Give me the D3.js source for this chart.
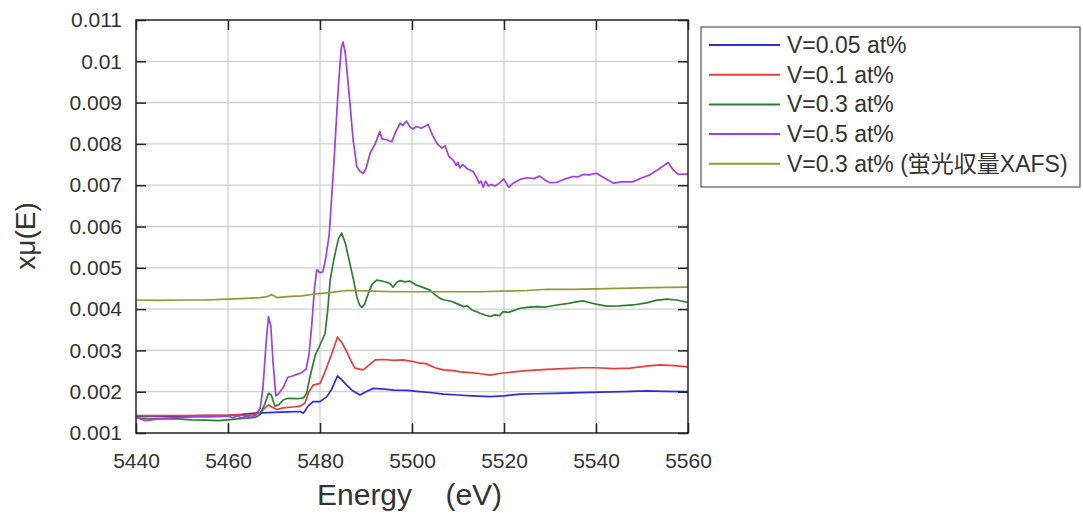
<!DOCTYPE html>
<html lang="ja">
<head>
    <meta charset="UTF-8">
    <title>XANES V K-edge</title>
    <script src="https://d3js.org/d3.v7.min.js"></script>
    <style>
        body { margin: 0; background: #fff; }
        text { font-family: "Liberation Sans", Arial, "Noto Sans CJK JP", sans-serif; fill: #333; }
    </style>
</head>
<body>
    <div id="chart"></div>
    <script>
        // tick values
        const xTicks = [5440, 5460, 5480, 5500, 5520, 5540, 5560];
        const yTicks = [0.001, 0.002, 0.003, 0.004, 0.005, 0.006, 0.007, 0.008, 0.009, 0.01, 0.011];

        // legend labels
        const seriesNames = ["V=0.05 at%", "V=0.1 at%", "V=0.3 at%", "V=0.5 at%", "V=0.3 at% (蛍光収量XAFS)"];

        // V=0.05 at%
        const e005 = [5440, 5445, 5450, 5455, 5460, 5463, 5466, 5470, 5473, 5475.7, 5476.4, 5477.4, 5478.5, 5480, 5481.5, 5482.5, 5483.8, 5484.8, 5485.8, 5487, 5488.7, 5490, 5491.6, 5494, 5496, 5499, 5501.7, 5504, 5506.8, 5510, 5513, 5517, 5520, 5523.5, 5527, 5531, 5536.5, 5541, 5546, 5551, 5555, 5560];
        const mu005 = [0.00141, 0.0014, 0.00141, 0.00142, 0.00143, 0.00145, 0.00148, 0.0015, 0.00151, 0.00152, 0.00148, 0.00165, 0.00176, 0.00176, 0.00188, 0.00205, 0.00238, 0.00228, 0.00216, 0.00203, 0.00192, 0.002, 0.00208, 0.00206, 0.00204, 0.00203, 0.002, 0.00198, 0.00194, 0.00192, 0.0019, 0.00188, 0.0019, 0.00194, 0.00195, 0.00196, 0.00198, 0.00199, 0.002, 0.00202, 0.00201, 0.002];

        // V=0.1 at%
        const e01 = [5440, 5445, 5450, 5455, 5460, 5462, 5464, 5466, 5467, 5468, 5468.8, 5469.5, 5470.6, 5472, 5474, 5475.7, 5476.7, 5477.6, 5478.5, 5480, 5480.8, 5481.5, 5482.5, 5483.8, 5484.8, 5485.8, 5486.7, 5487.6, 5489.4, 5490.7, 5492, 5494, 5496, 5498, 5500.3, 5501.7, 5503, 5505, 5506.8, 5509, 5510.5, 5512.6, 5514.5, 5517, 5519, 5522, 5525, 5529.3, 5533, 5537, 5540.1, 5544, 5547.4, 5551, 5553.9, 5557, 5560];
        const mu01 = [0.00142, 0.00142, 0.00142, 0.00143, 0.00143, 0.00144, 0.00142, 0.00145, 0.0015, 0.0016, 0.00168, 0.00163, 0.00157, 0.00161, 0.00163, 0.00165, 0.00172, 0.002, 0.00216, 0.0022, 0.0024, 0.0026, 0.0029, 0.00332, 0.00318, 0.00297, 0.00275, 0.00257, 0.00253, 0.00265, 0.00277, 0.00278, 0.00276, 0.00277, 0.00273, 0.00269, 0.00268, 0.00258, 0.00253, 0.00251, 0.00248, 0.00246, 0.00244, 0.0024, 0.00244, 0.00248, 0.00251, 0.00254, 0.00256, 0.00258, 0.00258, 0.00256, 0.00257, 0.00262, 0.00265, 0.00263, 0.0026];

        // V=0.3 at%
        const e03 = [5440, 5441, 5443, 5446, 5449, 5452, 5455, 5458, 5460, 5462, 5464, 5466, 5467, 5468, 5468.8, 5469.4, 5470.2, 5471, 5472, 5473, 5475, 5476.4, 5477.1, 5477.7, 5478.2, 5479, 5480, 5481.1, 5481.7, 5482.2, 5483, 5484, 5484.7, 5485.5, 5486.5, 5487.3, 5488, 5488.6, 5489.1, 5489.7, 5490.5, 5491.3, 5492.3, 5493.5, 5494.5, 5495.2, 5495.9, 5496.6, 5497.4, 5498.5, 5499.5, 5501, 5502.5, 5503.9, 5505, 5506.1, 5507, 5508.5, 5510, 5511.2, 5512, 5513, 5514, 5514.8, 5516, 5517, 5518, 5519, 5519.8, 5521, 5523.5, 5525, 5527.1, 5529, 5531.5, 5534, 5536, 5537.2, 5538.5, 5540, 5542.3, 5545, 5548.1, 5551, 5553, 5555.4, 5557.5, 5560];
        const mu03 = [0.00139, 0.00136, 0.00134, 0.00135, 0.00134, 0.00132, 0.00131, 0.0013, 0.00132, 0.00134, 0.00136, 0.00138, 0.00145, 0.0017, 0.00196, 0.00192, 0.00165, 0.00168, 0.0018, 0.00184, 0.00183, 0.00185, 0.00196, 0.0023, 0.00253, 0.0029, 0.00313, 0.00341, 0.004, 0.0047, 0.0052, 0.0057, 0.00584, 0.0056, 0.0051, 0.0047, 0.0043, 0.0041, 0.00404, 0.00412, 0.00438, 0.0046, 0.0047, 0.00468, 0.00465, 0.00462, 0.00453, 0.00464, 0.00469, 0.00466, 0.00468, 0.00458, 0.00452, 0.00446, 0.00435, 0.00426, 0.00422, 0.00419, 0.00412, 0.00406, 0.00408, 0.00398, 0.00394, 0.0039, 0.00385, 0.00382, 0.00386, 0.00384, 0.00394, 0.00392, 0.00402, 0.00404, 0.00406, 0.00405, 0.0041, 0.00414, 0.00418, 0.0042, 0.00416, 0.00412, 0.00407, 0.00408, 0.0041, 0.00415, 0.00421, 0.00424, 0.00422, 0.00416];

        // V=0.5 at%
        const e05 = [5440, 5441, 5442, 5443, 5445, 5447, 5450, 5453, 5456, 5459, 5460, 5461, 5462, 5463, 5464, 5465, 5466, 5467, 5467.6, 5468.3, 5468.8, 5469.3, 5469.8, 5470.4, 5471, 5472, 5473, 5474, 5475, 5476, 5477, 5477.6, 5478.2, 5478.8, 5479.3, 5480, 5480.6, 5481.2, 5482, 5483, 5484, 5484.6, 5485, 5485.5, 5486, 5486.5, 5487.2, 5488, 5488.7, 5489.4, 5490, 5490.9, 5492, 5493, 5493.5, 5494.5, 5495.6, 5496.5, 5497.4, 5498, 5498.8, 5499.5, 5500.2, 5501, 5502, 5503.5, 5504.5, 5505.5, 5506.5, 5507.2, 5508, 5509, 5509.6, 5510, 5510.4, 5511, 5512, 5513.3, 5514, 5514.6, 5515, 5515.5, 5516, 5516.6, 5517.2, 5518, 5519, 5519.9, 5520.5, 5521, 5522, 5523.5, 5525, 5526.5, 5527.8, 5529, 5530, 5531.5, 5533, 5535, 5536, 5537.2, 5538.5, 5540.1, 5542, 5543.8, 5545.5, 5548, 5550, 5551.7, 5553.5, 5555.7, 5556.7, 5557.9, 5560];
        const mu05 = [0.00138, 0.00134, 0.0013, 0.00131, 0.00134, 0.00136, 0.00138, 0.00139, 0.00139, 0.0014, 0.00141, 0.00137, 0.00142, 0.00136, 0.00141, 0.00138, 0.00143, 0.0016, 0.0021, 0.0032, 0.00382, 0.0036, 0.0027, 0.0019, 0.00195, 0.0021, 0.00235, 0.00238, 0.00242, 0.00246, 0.00255, 0.0029, 0.0036, 0.0045, 0.00495, 0.00488, 0.0049, 0.0052, 0.0058, 0.0075, 0.0094, 0.0103, 0.01047, 0.0102, 0.0096, 0.009, 0.0081, 0.00745, 0.00733, 0.00729, 0.0074, 0.00778, 0.008, 0.0083, 0.00812, 0.0081, 0.00805, 0.0083, 0.0085, 0.00845, 0.00855, 0.00842, 0.00836, 0.00842, 0.00838, 0.00847, 0.0082, 0.008, 0.0079, 0.00795, 0.0077, 0.0076, 0.00748, 0.00755, 0.00742, 0.0075, 0.0074, 0.00733, 0.0072, 0.00705, 0.0071, 0.00695, 0.0071, 0.00698, 0.00702, 0.00698, 0.00705, 0.00715, 0.00705, 0.00695, 0.00705, 0.00714, 0.00718, 0.00716, 0.00722, 0.00712, 0.00706, 0.00707, 0.00714, 0.00721, 0.0072, 0.00726, 0.00725, 0.00729, 0.00716, 0.00705, 0.00708, 0.00708, 0.00718, 0.00725, 0.00738, 0.00755, 0.00738, 0.00726, 0.00727];

        // V=0.3 at% fluorescence yield
        const eFl = [5440, 5445, 5450, 5455, 5460, 5464, 5467, 5468.5, 5469.5, 5470.6, 5473, 5476, 5478.5, 5482, 5485.8, 5490, 5496, 5505, 5515, 5525, 5529.3, 5535, 5545, 5552, 5560];
        const muFl = [0.00422, 0.00421, 0.00422, 0.00422, 0.00424, 0.00426, 0.00428, 0.0043, 0.00435, 0.00428, 0.0043, 0.00432, 0.00436, 0.0044, 0.00445, 0.00444, 0.00442, 0.00442, 0.00442, 0.00445, 0.00448, 0.00448, 0.0045, 0.00452, 0.00453];

        const colors = ["#2d2dd8", "#e63d3d", "#2f7d33", "#a040de", "#8f9a36"];
        const series = [[e005, mu005], [e01, mu01], [e03, mu03], [e05, mu05], [eFl, muFl]]
            .map(([e, m], i) => ({ name: seriesNames[i], color: colors[i], pts: e.map((x, j) => [x, m[j]]) }));

        const W = 1083, H = 513;
        const margin = { top: 20, right: 395, bottom: 80, left: 136 };
        const width = W - margin.left - margin.right;
        const height = H - margin.top - margin.bottom;

        const x = d3.scaleLinear().domain([5440, 5560]).range([0, width]);
        const y = d3.scaleLinear().domain([0.001, 0.011]).range([height, 0]);

        const svg = d3.select("#chart").append("svg")
            .attr("width", W).attr("height", H);
        const g = svg.append("g").attr("transform", `translate(${margin.left},${margin.top})`);

        // grid
        g.append("g").selectAll("line").data(xTicks.slice(1, -1)).join("line")
            .attr("x1", d => x(d)).attr("x2", d => x(d))
            .attr("y1", 0).attr("y2", height)
            .attr("stroke", "#cfcfcf").attr("stroke-width", 1.3);
        g.append("g").selectAll("line").data(yTicks.slice(1, -1)).join("line")
            .attr("y1", d => y(d)).attr("y2", d => y(d))
            .attr("x1", 0).attr("x2", width)
            .attr("stroke", "#cfcfcf").attr("stroke-width", 1.3);

        // curves
        const line = d3.line().x(d => x(d[0])).y(d => y(d[1]));
        g.append("g").selectAll("path").data(series).join("path")
            .attr("fill", "none")
            .attr("stroke", d => d.color)
            .attr("stroke-width", 1.7)
            .attr("stroke-linejoin", "round")
            .attr("d", d => line(d.pts));

        // axes with inward ticks on all four sides
        const styleAxis = sel => {
            sel.select(".domain").remove();
            sel.selectAll(".tick line").attr("stroke", "#222").attr("stroke-width", 1.5);
            sel.selectAll(".tick text").style("font-size", "21px").attr("fill", "#333");
        };
        g.append("g").attr("transform", `translate(0,${height})`)
            .call(d3.axisBottom(x).tickValues(xTicks).tickSize(-10).tickPadding(20).tickFormat(d3.format("d")))
            .call(styleAxis);
        g.append("g")
            .call(d3.axisTop(x).tickValues(xTicks).tickSize(-10).tickFormat(""))
            .call(styleAxis);
        g.append("g")
            .call(d3.axisLeft(y).tickValues(yTicks).tickSize(-10).tickPadding(14).tickFormat(d => String(+d.toFixed(3))))
            .call(styleAxis);
        g.append("g").attr("transform", `translate(${width},0)`)
            .call(d3.axisRight(y).tickValues(yTicks).tickSize(-10).tickFormat(""))
            .call(styleAxis);
        g.append("rect")
            .attr("width", width).attr("height", height)
            .attr("fill", "none").attr("stroke", "#222").attr("stroke-width", 1.5);

        // axis titles
        svg.append("text")
            .attr("x", 317).attr("y", 505)
            .style("font-size", "30px").style("white-space", "pre")
            .text("Energy    (eV)");
        svg.append("text")
            .attr("transform", "translate(35,236) rotate(-90)")
            .attr("text-anchor", "middle")
            .style("font-size", "28px")
            .text("xμ(E)");

        // legend
        const legend = svg.append("g").attr("transform", "translate(701,27)");
        legend.append("rect")
            .attr("width", 379).attr("height", 160)
            .attr("fill", "#fff").attr("stroke", "#555").attr("stroke-width", 1.2);
        const item = legend.selectAll("g.item").data(series).join("g")
            .attr("class", "item")
            .attr("transform", (d, i) => `translate(0,${18 + i * 29.7})`);
        item.append("line")
            .attr("x1", 8).attr("x2", 79)
            .attr("stroke", d => d.color).attr("stroke-width", 2);
        item.append("text")
            .attr("x", 86).attr("y", 8)
            .style("font-size", "23px")
            .text(d => d.name);
    </script>
</body>
</html>
